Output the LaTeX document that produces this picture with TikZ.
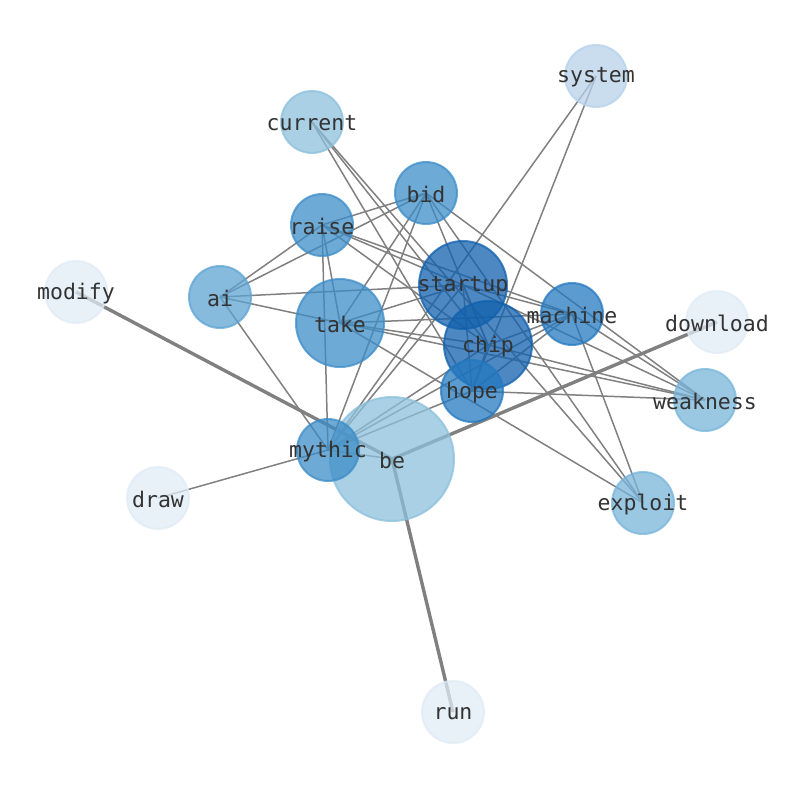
\documentclass[tikz,border=0pt]{standalone}
\usepackage{fontspec}
\newfontfamily\labelfont{DejaVu Sans Mono}
\definecolor{cA}{HTML}{E0EBF5}
\definecolor{cB}{HTML}{B7D1EA}
\definecolor{cC}{HTML}{8CC0DC}
\definecolor{cD}{HTML}{78B5DA}
\definecolor{cE}{HTML}{5DA4D3}
\definecolor{cF}{HTML}{3D8DC8}
\definecolor{cG}{HTML}{2479C0}
\definecolor{cH}{HTML}{1160AD}
\definecolor{edgegray}{HTML}{808080}
\definecolor{txtgray}{HTML}{333333}
\pgfdeclarelayer{bg}
\pgfsetlayers{bg,main}
\tikzset{
  nd/.style={circle, inner sep=0pt, line width=2pt, draw=#1, fill=#1, opacity=0.75,
    text opacity=1},
  sm/.style={minimum size=62pt},
  md/.style={minimum size=88pt},
  lg/.style={minimum size=124pt},
  wd/.style={font=\labelfont\fontsize{21.5}{24}\selectfont, text=txtgray, inner sep=0pt},
  thin edge/.style={draw=edgegray, line width=1.5pt},
  thick edge/.style={draw=edgegray, line width=3.4pt},
}
\begin{document}
\begin{tikzpicture}[x=1pt,y=-1pt]
\useasboundingbox (0,0) rectangle (794,790);
% nodes
\node[nd=cB, sm] (system) at (596,76) {};
\node[nd=cC, sm] (current) at (312,122) {};
\node[nd=cF, sm] (bid) at (426,193) {};
\node[nd=cF, sm] (raise) at (322,225) {};
\node[nd=cA, sm] (modify) at (76,292) {};
\node[nd=cE, sm] (ai) at (220,297) {};
\node[nd=cC, lg] (be) at (392,459) {};
\node[nd=cF, md] (take) at (340,323) {};
\node[nd=cA, sm] (download) at (717,322) {};
\node[nd=cD, sm] (weakness) at (705,400) {};
\node[nd=cF, sm] (mythic) at (328,450) {};
\node[nd=cA, sm] (draw) at (158,498) {};
\node[nd=cD, sm] (exploit) at (643,503) {};
\node[nd=cA, sm] (run) at (453,712) {};
\node[nd=cG, sm] (machine) at (572,314) {};
\node[nd=cH, md] (startup) at (463,285) {};
\node[nd=cH, md] (chip) at (488,345) {};
\node[nd=cG, sm] (hope) at (472,391) {};
% edges
\begin{pgfonlayer}{bg}
\foreach \a/\b in {modify/be, be/download, be/run}
  \draw[thick edge] (\a.center) -- (\b.center);
\foreach \a/\b in {system/hope, system/mythic,
  current/hope, current/chip, current/exploit,
  bid/raise, bid/ai, bid/take, bid/mythic, bid/chip, bid/weakness, bid/exploit,
  raise/ai, raise/take, raise/mythic, raise/startup, raise/chip, raise/machine,
  ai/startup, ai/take, ai/mythic,
  startup/take, startup/machine, startup/weakness, startup/mythic, startup/hope, startup/chip,
  take/chip, take/machine, take/exploit, take/weakness,
  chip/machine, chip/weakness, chip/mythic, chip/hope,
  machine/hope, machine/mythic, machine/weakness, machine/exploit,
  hope/weakness, hope/mythic,
  draw/mythic, mythic/be}
  \draw[thin edge] (\a.center) -- (\b.center);
\end{pgfonlayer}
% labels
\foreach \n in {system,current,bid,raise,modify,ai,be,take,download,weakness,mythic,draw,exploit,run,machine,startup,chip,hope}
  \node[wd, yshift=-1.5pt] (\n-t) at (\n) {\n};
\end{tikzpicture}
\end{document}
